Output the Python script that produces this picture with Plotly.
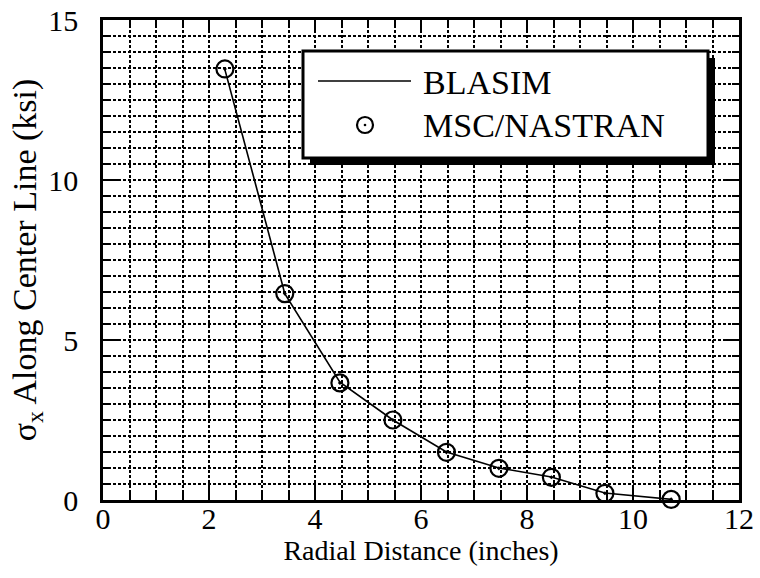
import plotly.graph_objects as go

# ---- data ----
radial_in = [2.30, 3.43, 4.47, 5.47, 6.48, 7.47, 8.46, 9.47, 10.72]
sigma_blasim = [13.45, 6.45, 3.68, 2.50, 1.50, 1.00, 0.72, 0.22, 0.02]
sigma_nastran = [13.47, 6.45, 3.66, 2.50, 1.49, 0.99, 0.71, 0.21, 0.02]
series_names = ["BLASIM", "MSC/NASTRAN"]
x_tick_vals = [0, 2, 4, 6, 8, 10, 12]
y_tick_vals = [0, 5, 10, 15]

# ---- geometry (page pixels) ----
W, H = 760, 578
L, R, T, B = 103, 739, 20, 500
FONT = "Liberation Serif"


def px(xp):
    return (xp - L) / (R - L)


def py(yp):
    return (B - yp) / (B - T)


fig = go.Figure()
fig.add_trace(go.Scatter(
    x=radial_in, y=sigma_blasim, mode="lines", name=series_names[0],
    line=dict(color="black", width=1.6), showlegend=False, cliponaxis=False))
fig.add_trace(go.Scatter(
    x=radial_in, y=sigma_nastran, mode="markers", name=series_names[1],
    marker=dict(symbol="circle-open-dot", size=17, color="black",
                line=dict(color="black", width=2.2)),
    showlegend=False, cliponaxis=False))

GRID = dict(showgrid=True, gridcolor="black", gridwidth=1.5, griddash="3px,2px")

axis_common = dict(
    showline=True, linecolor="black", linewidth=2.5, mirror="allticks",
    ticks="inside", tickcolor="black", tickwidth=2,
    zeroline=False, automargin=False, ticklabeloverflow="allow",
    tickfont=dict(family=FONT, size=30, color="black"),
    **GRID,
)

fig.update_xaxes(
    range=[0, 12], tickvals=x_tick_vals, ticklen=13,
    minor=dict(dtick=0.5, ticks="inside", ticklen=7, tickwidth=2, tickcolor="black", **GRID),
    title=dict(text="Radial Distance (inches)", font=dict(family=FONT, size=28, color="black"),
               standoff=0),
    ticklabelstandoff=-10,
    **axis_common)
fig.update_yaxes(
    range=[0, 15], tickvals=y_tick_vals, ticklen=15,
    minor=dict(dtick=0.5, ticks="inside", ticklen=7, tickwidth=2, tickcolor="black", **GRID),
    title=dict(text="σ<sub>x</sub> Along Center Line (ksi)",
               font=dict(family=FONT, size=34, color="black"), standoff=2),
    ticklabelstandoff=16,
    **axis_common)

# ---- hand-built legend box with drop shadow ----
shapes = [
    dict(type="rect", xref="paper", yref="paper", layer="above",
         x0=px(310), x1=px(715), y0=py(58), y1=py(165),
         fillcolor="black", line=dict(width=0)),
    dict(type="rect", xref="paper", yref="paper", layer="above",
         x0=px(303), x1=px(708), y0=py(51), y1=py(158),
         fillcolor="white", line=dict(color="black", width=3)),
    dict(type="line", xref="paper", yref="paper", layer="above",
         x0=px(318), x1=px(411), y0=py(81), y1=py(81),
         line=dict(color="black", width=1.6)),
    dict(type="circle", xref="paper", yref="paper", layer="above",
         xsizemode="pixel", ysizemode="pixel", xanchor=px(365), yanchor=py(125),
         x0=-8, x1=8, y0=-8, y1=8, line=dict(color="black", width=2.2)),
    dict(type="circle", xref="paper", yref="paper", layer="above",
         xsizemode="pixel", ysizemode="pixel", xanchor=px(365), yanchor=py(125),
         x0=-1.3, x1=1.3, y0=-1.3, y1=1.3, fillcolor="black", line=dict(color="black", width=0)),
]
annotations = [
    dict(xref="paper", yref="paper", x=px(421), y=py(82), text=series_names[0],
         showarrow=False, xanchor="left", yanchor="middle",
         font=dict(family=FONT, size=34, color="black")),
    dict(xref="paper", yref="paper", x=px(421), y=py(125), text=series_names[1],
         showarrow=False, xanchor="left", yanchor="middle",
         font=dict(family=FONT, size=34, color="black")),
]

fig.update_layout(
    template="none",
    width=W, height=H,
    margin=dict(l=L, r=W - R, t=T, b=H - B, pad=0),
    paper_bgcolor="white", plot_bgcolor="white",
    shapes=shapes, annotations=annotations,
    showlegend=False,
)

fig.write_html("out.html",
               config={"displayModeBar": False},
               post_script="document.body.style.margin='0px';document.body.style.overflow='hidden';")
